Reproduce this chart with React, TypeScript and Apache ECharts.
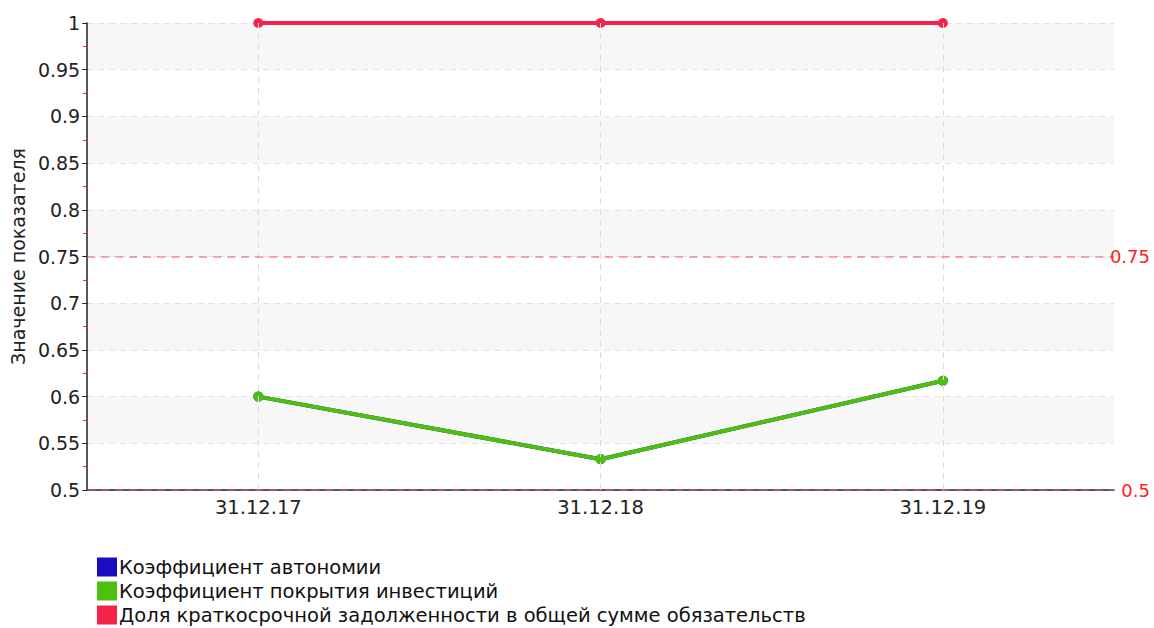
import React, { useEffect, useRef } from "react";
import * as echarts from "echarts";

const categories = ["31.12.17", "31.12.18", "31.12.19"];
const autonomy = [0.6, 0.533, 0.617];
const investCoverage = [0.6, 0.533, 0.617];
const shortDebtShare = [1, 1, 1];
const seriesNames = [
  "Коэффициент автономии",
  "Коэффициент покрытия инвестиций",
  "Доля краткосрочной задолженности в общей сумме обязательств",
];
const thresholds = [0.75, 0.5];
const FONT = "DejaVu Sans";

export default function App() {
  const ref = useRef<HTMLDivElement>(null);
  useEffect(() => {
    if (!ref.current) return;
    const chart = echarts.init(ref.current, undefined, { renderer: "svg" });
    chart.setOption({
      animation: false,
      textStyle: { fontFamily: FONT },
      grid: { left: 85, right: 40, top: 23, bottom: 138 },
      legend: {
        orient: "vertical",
        left: 92,
        top: 552,
        height: 76,
        itemGap: 4,
        itemWidth: 20,
        itemHeight: 19,
        icon: "rect",
        data: seriesNames,
        textStyle: { fontFamily: FONT, fontSize: 19.5, color: "#111", padding: [0, 0, 0, -3] },
      },
      xAxis: {
        type: "category",
        data: categories,
        boundaryGap: true,
        axisLine: { lineStyle: { color: "#222", width: 1.5 } },
        axisTick: { alignWithLabel: true, length: 5, lineStyle: { color: "#222" } },
        axisLabel: { fontFamily: FONT, fontSize: 19.5, color: "#222", margin: 7 },
        splitLine: { show: false },
      },
      yAxis: {
        type: "value",
        min: 0.5,
        max: 1,
        interval: 0.05,
        name: "Значение показателя",
        nameLocation: "middle",
        nameGap: 58,
        nameTextStyle: { fontFamily: FONT, fontSize: 19, color: "#222" },
        axisLine: { show: true, lineStyle: { color: "#222", width: 1.5 } },
        axisTick: { show: true, length: 5, lineStyle: { color: "#222" } },
        minorTick: { show: true, splitNumber: 2, length: 4, lineStyle: { color: "#ff2020" } },
        axisLabel: { fontFamily: FONT, fontSize: 19, color: "#222", margin: 7 },
        splitLine: { show: true, lineStyle: { color: "#e2e2e2", type: [6, 5] } },
        splitArea: { show: true, areaStyle: { color: ["rgba(255,255,255,0)", "#f7f7f7"] } },
      },
      series: [
        {
          name: "grid-v",
          type: "line",
          data: [null, null, null],
          z: 0,
          silent: true,
          markLine: {
            silent: true,
            symbol: "none",
            label: { show: false },
            lineStyle: { color: "#dcdcdc", type: [6, 5], width: 1 },
            data: categories.map((c) => ({ xAxis: c })),
          },
        },
        {
          name: seriesNames[0],
          type: "line",
          data: autonomy,
          symbol: "circle",
          symbolSize: 10,
          itemStyle: { color: "#1a0cc0" },
          lineStyle: { width: 4, color: "#1a0cc0" },
          z: 2,
        },
        {
          name: seriesNames[1],
          type: "line",
          data: investCoverage,
          symbol: "circle",
          symbolSize: 10,
          itemStyle: { color: "#4cc00c" },
          lineStyle: { width: 4, color: "#4cc00c" },
          z: 3,
          markLine: {
            silent: true,
            symbol: "none",
            lineStyle: { color: "rgba(240,90,90,0.7)", type: [8, 6], width: 1.5 },
            label: {
              show: true,
              position: "end",
              distance: 36,
              align: "right",
              fontFamily: FONT,
              fontSize: 18,
              color: "#ff2020",
              formatter: (p: any) => String(p.value),
            },
            data: thresholds.map((v) => ({ yAxis: v })),
          },
        },
        {
          name: seriesNames[2],
          type: "line",
          data: shortDebtShare,
          symbol: "circle",
          symbolSize: 10,
          itemStyle: { color: "#f5234a" },
          lineStyle: { width: 4, color: "#f5234a" },
          z: 4,
        },
      ],
    });
    return () => chart.dispose();
  }, []);
  return (
    <div
      ref={ref}
      style={{ position: "absolute", left: 0, top: 0, width: 1154, height: 628, background: "#fff" }}
    />
  );
}
